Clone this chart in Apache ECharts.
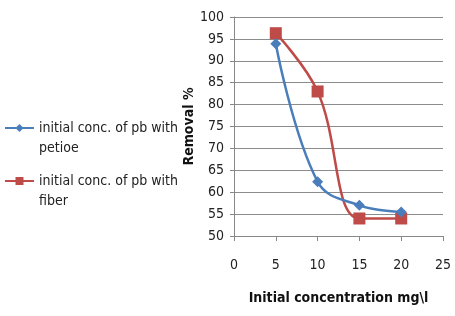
<!DOCTYPE html>
<html>
<head>
<meta charset="utf-8">
<script src="https://cdn.jsdelivr.net/npm/echarts@6/dist/echarts.min.js"></script>
<style>
  html, body { margin: 0; padding: 0; background: #fff; }
  #chart { width: 455px; height: 316px; }
</style>
</head>
<body>
<div id="chart"></div>
<script>
// values
var concentration = [5, 10, 15, 20];
var petioleRemoval = [93.9, 62.4, 57.0, 55.5];
var fiberRemoval = [96.3, 83.0, 54.0, 54.0];
var seriesNames = ['initial conc. of pb with\npetioe', 'initial conc. of pb with\nfiber'];

var font = "'Liberation Sans Narrow', 'DejaVu Sans Condensed', sans-serif";
var chart = echarts.init(document.getElementById('chart'));

function pairs(xs, ys) {
  var out = [];
  for (var i = 0; i < xs.length; i++) out.push([xs[i], ys[i]]);
  return out;
}

var option = {
  animation: false,
  color: ['#4A7EBB', '#BE4B48'],
  grid: { left: 234, right: 12, top: 17, bottom: 80 },
  legend: {
    orient: 'vertical',
    left: 4,
    top: 98,
    padding: 0,
    itemWidth: 29,
    itemHeight: 10,
    itemGap: -7,
    data: seriesNames,
    // blank first line so the icon sits beside the first text line
    formatter: function (name) { return ' \n' + name; },
    textStyle: { fontFamily: font, fontSize: 14, color: '#222', lineHeight: 20 }
  },
  xAxis: {
    type: 'value',
    min: 0, max: 25, interval: 5,
    name: 'Initial concentration mg\\l',
    nameLocation: 'middle',
    nameGap: 55,
    nameTextStyle: { fontFamily: font, fontSize: 14, fontWeight: 'bold', color: '#111' },
    axisLine: { show: true, onZero: false, lineStyle: { color: '#888' } },
    axisTick: { show: true, length: 5, lineStyle: { color: '#888' } },
    axisLabel: { fontFamily: font, fontSize: 14, color: '#222', margin: 22 },
    splitLine: { show: false }
  },
  yAxis: {
    type: 'value',
    min: 50, max: 100, interval: 5,
    name: 'Removal %',
    nameLocation: 'middle',
    nameGap: 38,
    nameTextStyle: { fontFamily: font, fontSize: 14, fontWeight: 'bold', color: '#111' },
    axisLine: { show: true, lineStyle: { color: '#888' } },
    axisTick: { show: true, length: 4, lineStyle: { color: '#888' } },
    axisLabel: { fontFamily: font, fontSize: 14, color: '#222', margin: 10 },
    splitLine: { show: true, lineStyle: { color: '#8c8c8c' } }
  },
  series: [{
    name: seriesNames[0],
    type: 'line',
    data: pairs(concentration, petioleRemoval),
    smooth: 0.4,
    symbol: 'diamond',
    symbolSize: 11,
    lineStyle: { width: 2.5 },
    z: 3
  }, {
    name: seriesNames[1],
    type: 'line',
    data: pairs(concentration, fiberRemoval),
    smooth: 0.4,
    symbol: 'rect',
    symbolSize: 12,
    lineStyle: { width: 2.5 },
    z: 2
  }]
};
chart.setOption(option);
</script>
</body>
</html>
